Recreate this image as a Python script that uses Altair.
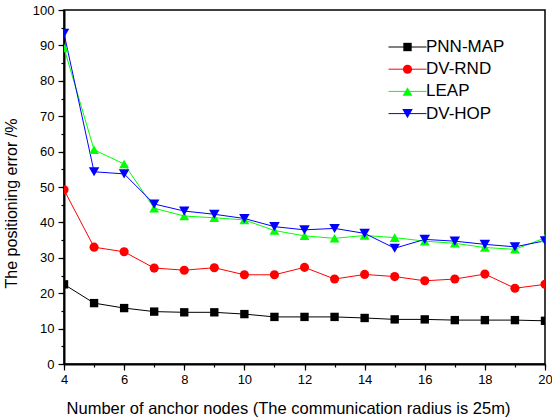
import altair as alt
import pandas as pd

anchors = list(range(4, 21))
pnn_map = [22.5, 17.2, 15.8, 14.8, 14.6, 14.6, 14.1, 13.3, 13.3, 13.3, 13.0, 12.6, 12.6, 12.4, 12.4, 12.4, 12.2]
dv_rnd = [49.2, 33.0, 31.7, 27.1, 26.5, 27.2, 25.2, 25.2, 27.3, 24.0, 25.3, 24.7, 23.5, 24.0, 25.4, 21.4, 22.5]
leap = [89.3, 60.5, 56.5, 44.0, 41.8, 41.3, 40.7, 37.7, 36.2, 35.5, 36.3, 35.7, 34.7, 34.1, 32.9, 32.4, 35.6]
dv_hop = [93.4, 54.3, 53.7, 45.2, 43.2, 42.3, 41.1, 38.8, 37.9, 38.3, 36.9, 32.7, 35.2, 34.7, 33.8, 33.1, 34.8]

series = ["PNN-MAP", "DV-RND", "LEAP", "DV-HOP"]
codes = ["a", "b", "c", "d"]
colors = ["#000000", "#FF0000", "#00FF00", "#0000FF"]
shapes = ["square", "circle", "triangle-up", "triangle-down"]
sizes = [70, 110, 130, 130]
x_major = list(range(4, 21, 2))
x_minor = list(range(4, 21, 1))
y_major = list(range(0, 101, 10))
y_minor = list(range(0, 101, 5))

rows = []
for name, code, vals in zip(series, codes, [pnn_map, dv_rnd, leap, dv_hop]):
    for n, v in zip(anchors, vals):
        rows.append({"n": n, "v": v, "s": name, "k": code})
df = pd.DataFrame(rows)

FONT = "Liberation Sans"
xs = alt.Scale(domain=[4, 20], nice=False, zero=False)
ys = alt.Scale(domain=[0, 100], nice=False)

LX, LY = 335, 28.5
common_leg = dict(title=None, orient="none", legendX=LX, legendY=LY, padding=0,
                  labelFontSize=17, labelFont=FONT, labelOffset=10,
                  rowPadding=4.2, symbolSize=100)

line_legend = alt.Legend(symbolType="M-3.8,0L3.8,0", symbolStrokeWidth=1,
                         labelExpr="''", labelColor="black", **common_leg)
point_legend = alt.Legend(labelColor="black", symbolStrokeWidth=0, **common_leg)

lines = alt.Chart(df).mark_line(strokeWidth=1, clip=True).encode(
    x=alt.X("n:Q", scale=xs, axis=alt.Axis(values=x_minor, labels=False, title=None,
                                           tickSize=3, domain=False, orient="bottom")),
    y=alt.Y("v:Q", scale=ys, axis=alt.Axis(values=y_minor, labels=False, title=None,
                                           tickSize=3, domain=False, orient="left")),
    stroke=alt.Stroke("k:N", scale=alt.Scale(domain=codes, range=colors), legend=line_legend),
)

points = alt.Chart(df).mark_point(filled=True, opacity=1, clip=True).encode(
    x=alt.X("n:Q", scale=xs, axis=alt.Axis(
        values=x_major, tickSize=6, orient="bottom", labelPadding=3,
        labelFlush=False, labelOverlap=False, labelBound=False,
        title="Number of anchor nodes (The communication radius is 25m)",
        titleX=224, titleY=44, titleAlign="center", titleBaseline="middle",
        titleFontSize=16.5)),
    y=alt.Y("v:Q", scale=ys, axis=alt.Axis(
        values=y_major, tickSize=6, orient="left", labelPadding=4,
        labelFlush=False, labelOverlap=False,
        title="The positioning error /%",
        titleX=-53, titleY=193, titleAlign="center", titleBaseline="middle",
        titleFontSize=16)),
    color=alt.Color("s:N", scale=alt.Scale(domain=series, range=colors), legend=point_legend),
    shape=alt.Shape("s:N", scale=alt.Scale(domain=series, range=shapes), legend=point_legend),
    size=alt.Size("s:N", scale=alt.Scale(domain=series, range=sizes), legend=None),
)

chart = alt.layer(lines, points).resolve_axis(
    x="independent", y="independent"
).properties(
    width=481, height=354,
    padding={"left": 64, "top": 10, "right": 7, "bottom": 54},
    autosize=alt.AutoSizeParams(type="none"),
).configure_view(
    stroke="black", strokeWidth=1.5
).configure_axis(
    grid=False, domainColor="black", domainWidth=2, tickColor="black", tickWidth=1.2,
    labelColor="black", labelFont=FONT, labelFontSize=13,
    titleColor="black", titleFont=FONT, titleFontWeight="normal",
)

chart.save("out.html", embed_options={"renderer": "svg", "actions": False})
